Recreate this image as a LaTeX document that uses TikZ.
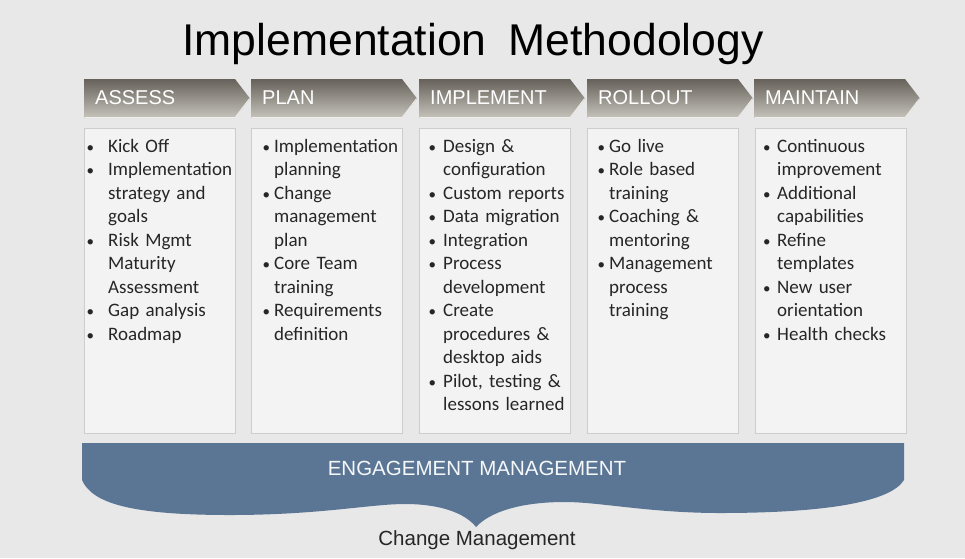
\documentclass[tikz,border=0pt]{standalone}
\usepackage{fontspec}
\setmainfont{Liberation Sans}
\newfontfamily\bodyfont{Carlito}
\usetikzlibrary{positioning}
\definecolor{bgc}{HTML}{E8E8E8}
\definecolor{boxfill}{HTML}{F3F3F3}
\definecolor{boxline}{HTML}{CDCDCD}
\definecolor{chevtop}{HTML}{66625A}
\definecolor{chevbot}{HTML}{C6C3BC}
\definecolor{bannerc}{HTML}{5B7695}
\definecolor{bodytxt}{HTML}{262626}
\newlength\bulw
\newcommand\bu{\strut\makebox[\bulw][l]{\fontsize{15}{15}\selectfont •}}
\newcommand\ct{\strut\hspace*{\bulw}}
\tikzset{
  chev/.style={top color=chevtop, bottom color=chevbot, draw=none},
  chevlabel/.style={anchor=base west, inner sep=0pt, text=white, font=\fontsize{20}{24}\selectfont},
  colbox/.style={draw=boxline, fill=boxfill, line width=0.8pt, minimum width=151pt, minimum height=305pt, anchor=north west, inner sep=0pt},
  bodytext/.style={anchor=north west, inner sep=0pt, text width=170pt, align=left, text=bodytxt,
     font=\bodyfont\fontsize{19}{23.5}\selectfont},
}
\begin{document}
\begin{tikzpicture}[x=1pt,y=-1pt]
\useasboundingbox (0,0) rectangle (965,558);
\fill[bgc] (0,0) rectangle (965,558);

% title
\node[anchor=base, inner sep=0pt, font=\fontsize{44.5}{50}\selectfont, text=black] (title) at (473,55) {Implementation\hspace{22pt}Methodology};

% chevrons
\foreach \x/\n/\t in {84/1/ASSESS, 251/2/PLAN, 419/3/IMPLEMENT, 587/4/ROLLOUT, 754/5/MAINTAIN}{
  \path[chev] (\x,79) -- (\x+151,79) -- (\x+166,98.5) -- (\x+151,118) -- (\x,118) -- cycle;
  \draw[white!75!chevbot, line width=0.8pt] (\x+0.5,117.6) -- (\x+151,117.6) -- (\x+165.5,98.5);
  \node[chevlabel] (l\n) at (\x+11,104.5) {\t};
}

% boxes
\node[colbox] (b1) at (84,128) {};
\node[colbox] (b2) at (251,128) {};
\node[colbox] (b3) at (419,128) {};
\node[colbox] (b4) at (587,128) {};
\node[colbox] (b5) at (755,128) {};

% texts
\node[bodytext, execute at begin node={\setlength\bulw{21.7pt}}] (t1) at (86.3,135.5) {%
\bu Kick Off\\
\bu Implementation\\
\ct strategy and\\
\ct goals\\
\bu Risk Mgmt\\
\ct Maturity\\
\ct Assessment\\
\bu Gap analysis\\
\bu Roadmap};

\node[bodytext, execute at begin node={\setlength\bulw{11.7pt}}] (t2) at (262.3,135.5) {%
\bu Implementation\\
\ct planning\\
\bu Change\\
\ct management\\
\ct plan\\
\bu Core Team\\
\ct training\\
\bu Requirements\\
\ct definition};

\node[bodytext, execute at begin node={\setlength\bulw{14.7pt}}] (t3) at (428.3,135.5) {%
\bu Design \&\\
\ct configuration\\
\bu Custom reports\\
\bu Data migration\\
\bu Integration\\
\bu Process\\
\ct development\\
\bu Create\\
\ct procedures \&\\
\ct desktop aids\\
\bu Pilot, testing \&\\
\ct lessons learned};

\node[bodytext, execute at begin node={\setlength\bulw{11.7pt}}] (t4) at (597.3,135.5) {%
\bu Go live\\
\bu Role based\\
\ct training\\
\bu Coaching \&\\
\ct mentoring\\
\bu Management\\
\ct process\\
\ct training};

\node[bodytext, execute at begin node={\setlength\bulw{14.2pt}}] (t5) at (762.8,135.5) {%
\bu Continuous\\
\ct improvement\\
\bu Additional\\
\ct capabilities\\
\bu Refine\\
\ct templates\\
\bu New user\\
\ct orientation\\
\bu Health checks};

% banner (brace)
\fill[bannerc] (82,443) -- (904,443) -- (904,480)
  .. controls (890,503) and (820,513) .. (720,513)
  .. controls (650,513) and (600,502) .. (565,502)
  .. controls (520,502) and (490,512) .. (476,527)
  .. controls (465,513) and (440,504) .. (405,504)
  .. controls (370,504) and (320,515) .. (230,515)
  .. controls (130,515) and (92,503) .. (82,480) -- cycle;
\node[anchor=base, inner sep=0pt, text=white!94!bannerc, font=\fontsize{20.5}{24}\selectfont] (eng) at (477,475.5) {ENGAGEMENT MANAGEMENT};

\node[anchor=base, inner sep=0pt, text=black!85, font=\fontsize{20.5}{24}\selectfont] (chg) at (477,545.5) {Change Management};
\end{tikzpicture}
\end{document}
